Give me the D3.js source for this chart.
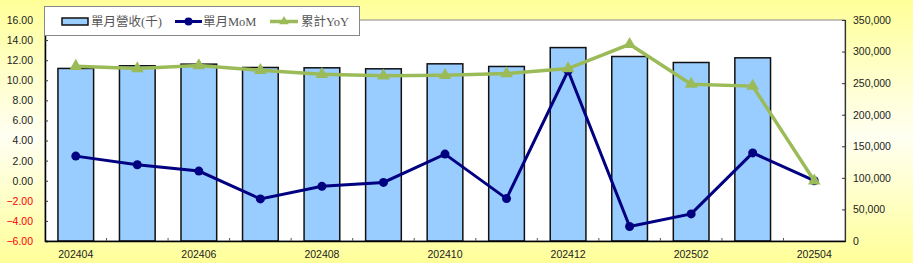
<!DOCTYPE html>
<html>
<head>
<meta charset="utf-8">
<script src="https://cdn.jsdelivr.net/npm/d3@7"></script>
<style>
  body { margin: 0; padding: 0; overflow: hidden; }
  svg { display: block; }
</style>
</head>
<body>
<div id="chart"></div>
<script>
// chart data
var months = ['202404','202405','202406','202407','202408','202409','202410','202411','202412','202501','202502','202503','202504'];
var revenue = [273300, 277500, 280100, 274800, 274300, 272700, 280600, 276400, 306300, 292200, 282700, 290100, null];
var mom = [2.45, 1.59, 0.96, -1.81, -0.56, -0.17, 2.65, -1.78, 10.95, -4.56, -3.30, 2.77, 0];
var yoy = [11.40, 11.17, 11.47, 11.00, 10.60, 10.44, 10.50, 10.67, 11.17, 13.58, 9.61, 9.42, 0];
var leftTicks = [16, 14, 12, 10, 8, 6, 4, 2, 0, -2, -4, -6];
var rightTicks = [0, 50000, 100000, 150000, 200000, 250000, 300000, 350000];
var xLabels = ['202404','202406','202408','202410','202412','202502','202504'];
var legendNames = ['單月營收(千)', '單月MoM', '累計YoY'];

var width = 913, height = 263;
var plot = {left: 45, right: 845, top: 20, bottom: 241};

var svg = d3.select('#chart').append('svg')
  .attr('width', width)
  .attr('height', height);

//background gradient
var grad = svg.append('defs').append('linearGradient')
  .attr('id', 'bg').attr('x1', 0).attr('y1', 0).attr('x2', 0).attr('y2', 1);
grad.append('stop').attr('offset', '0%').attr('stop-color', '#FFFF99');
grad.append('stop').attr('offset', '52%').attr('stop-color', '#FFFFF2');
grad.append('stop').attr('offset', '100%').attr('stop-color', '#FFFF99');

svg.append('rect')
  .attr('width', width).attr('height', height)
  .style('fill', 'url(#bg)');

//plot area
svg.append('rect')
  .attr('x', plot.left).attr('y', plot.top)
  .attr('width', plot.right - plot.left)
  .attr('height', plot.bottom - plot.top)
  .style('fill', '#fff')
  .style('stroke', '#888')
  .style('stroke-width', 1);

//scales
var x = d3.scaleBand().domain(months).range([plot.left, plot.right]).padding(0);
var yLeft = d3.scaleLinear().domain([-6, 16]).range([plot.bottom, plot.top]);
var yRight = d3.scaleLinear().domain([0, 350000]).range([plot.bottom, plot.top]);
var barW = x.bandwidth() * 0.58;
var cx = function(d) { return x(d) + x.bandwidth() / 2; };

//bars
svg.append('g').selectAll('rect')
  .data(months.filter(function(m, i) { return revenue[i] !== null; }))
  .enter().append('rect')
  .attr('x', function(d) { return cx(d) - barW / 2; })
  .attr('y', function(d) { return yRight(revenue[months.indexOf(d)]); })
  .attr('width', barW)
  .attr('height', function(d) { return plot.bottom - yRight(revenue[months.indexOf(d)]); })
  .style('fill', '#99CCFF')
  .style('stroke', '#111')
  .style('stroke-width', 1.5);

//left axis
var leftAxis = svg.append('g')
  .attr('transform', 'translate(' + plot.left + ',0)')
  .call(d3.axisLeft(yLeft).tickValues(leftTicks).tickSize(-3).tickPadding(12).tickFormat(d3.format('.2f')));
leftAxis.select('.domain').style('stroke', '#000').style('stroke-width', 1.5);
leftAxis.selectAll('.tick line').style('stroke', '#333');
leftAxis.selectAll('.tick text')
  .style('font-family', '"Liberation Sans", Arial, sans-serif')
  .style('font-size', '10.5px')
  .style('fill', function(d) { return d < 0 ? '#FF0000' : '#222'; });

//right axis
var rightAxis = svg.append('g')
  .attr('transform', 'translate(' + plot.right + ',0)')
  .call(d3.axisRight(yRight).tickValues(rightTicks).tickSize(-3).tickPadding(8).tickFormat(d3.format(',')));
rightAxis.select('.domain').style('stroke', '#333').style('stroke-width', 1.2);
rightAxis.selectAll('.tick line').style('stroke', '#333');
rightAxis.selectAll('.tick text')
  .style('font-family', '"Liberation Sans", Arial, sans-serif')
  .style('font-size', '10.5px')
  .style('fill', '#222');

//bottom axis
var bottomAxis = svg.append('g')
  .attr('transform', 'translate(0,' + plot.bottom + ')')
  .call(d3.axisBottom(x).tickValues(xLabels).tickSize(0).tickPadding(10));
bottomAxis.select('.domain').style('stroke', '#000').style('stroke-width', 1.5);
bottomAxis.selectAll('.tick text')
  .style('font-family', '"Liberation Sans", Arial, sans-serif')
  .style('font-size', '10.5px')
  .style('fill', '#222');
//category boundary ticks (inside)
bottomAxis.selectAll('.cat-tick')
  .data(months.slice(1))
  .enter().append('line')
  .attr('x1', function(d) { return x(d); })
  .attr('x2', function(d) { return x(d); })
  .attr('y1', 0).attr('y2', -3)
  .style('stroke', '#555');

//MoM line
var momLine = d3.line()
  .x(function(d, i) { return cx(months[i]); })
  .y(function(d) { return yLeft(d); });
svg.append('path')
  .datum(mom)
  .attr('d', momLine)
  .style('fill', 'none')
  .style('stroke', '#000080')
  .style('stroke-width', 3);
svg.append('g').selectAll('circle')
  .data(mom)
  .enter().append('circle')
  .attr('cx', function(d, i) { return cx(months[i]); })
  .attr('cy', function(d) { return yLeft(d); })
  .attr('r', 4.5)
  .style('fill', '#000080');

//YoY line
var yoyLine = d3.line()
  .x(function(d, i) { return cx(months[i]); })
  .y(function(d) { return yLeft(d); });
svg.append('path')
  .datum(yoy)
  .attr('d', yoyLine)
  .style('fill', 'none')
  .style('stroke', '#9BBB59')
  .style('stroke-width', 3.5);
var tri = d3.symbol().type(d3.symbolTriangle).size(70);
svg.append('g').selectAll('path')
  .data(yoy)
  .enter().append('path')
  .attr('d', tri)
  .attr('transform', function(d, i) { return 'translate(' + cx(months[i]) + ',' + yLeft(d) + ')'; })
  .style('fill', '#9BBB59');

//legend
var legend = svg.append('g');
legend.append('rect')
  .attr('x', 44.5).attr('y', 6.5).attr('width', 315).attr('height', 29)
  .style('fill', '#fff')
  .style('stroke', '#888');
var legendX = [62, 175, 270];
var ly = 21.5;
legend.append('rect')
  .attr('x', legendX[0]).attr('y', ly - 3.5).attr('width', 26).attr('height', 7)
  .style('fill', '#99CCFF').style('stroke', '#111').style('stroke-width', 1.5);
legend.append('line')
  .attr('x1', legendX[1]).attr('x2', legendX[1] + 27).attr('y1', ly).attr('y2', ly)
  .style('stroke', '#000080').style('stroke-width', 3);
legend.append('circle')
  .attr('cx', legendX[1] + 13.5).attr('cy', ly).attr('r', 4)
  .style('fill', '#000080');
legend.append('line')
  .attr('x1', legendX[2]).attr('x2', legendX[2] + 28).attr('y1', ly).attr('y2', ly)
  .style('stroke', '#9BBB59').style('stroke-width', 3.5);
legend.append('path')
  .attr('d', d3.symbol().type(d3.symbolTriangle).size(40))
  .attr('transform', 'translate(' + (legendX[2] + 14) + ',' + ly + ')')
  .style('fill', '#9BBB59');
legend.selectAll('text')
  .data(legendNames)
  .enter().append('text')
  .attr('x', function(d, i) { return [91, 203, 301][i]; })
  .attr('y', ly)
  .attr('dy', '0.36em')
  .style('font-family', '"Liberation Serif", "Noto Sans CJK TC", serif')
  .style('font-size', '12.5px')
  .style('fill', '#555')
  .text(function(d) { return d; });
</script>
</body>
</html>
